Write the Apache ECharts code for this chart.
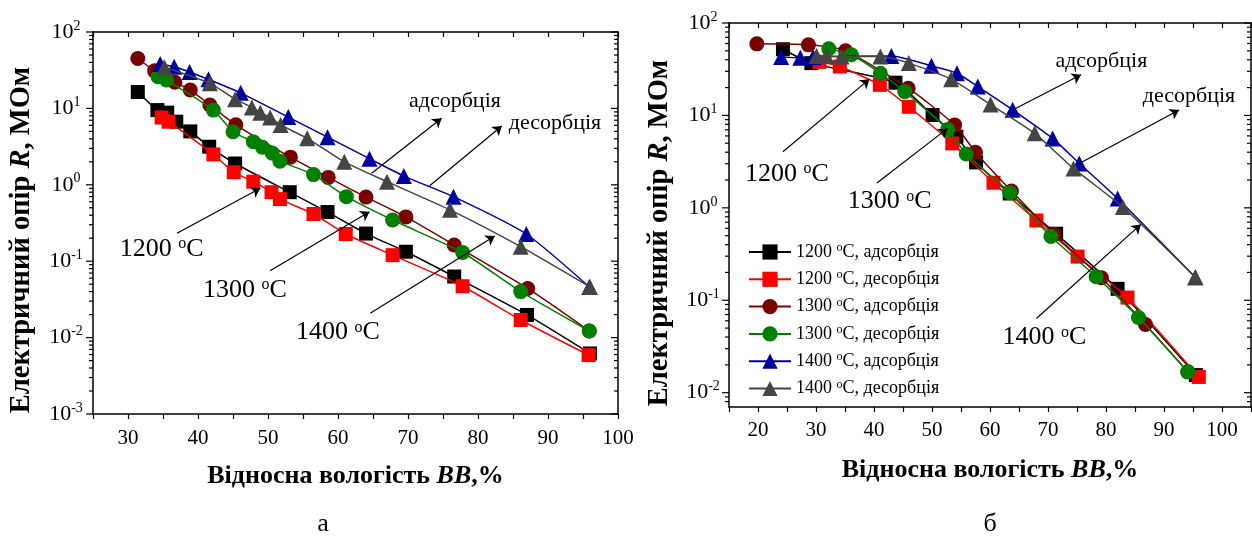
<!DOCTYPE html>
<html><head><meta charset="utf-8">
<script src="https://cdn.jsdelivr.net/npm/echarts@6/dist/echarts.min.js"></script>
<style>html,body{margin:0;padding:0;background:#fff}#c{width:1252px;height:540px}</style>
</head><body><div id="c"></div>
<script>
const FONT = 'Liberation Serif';
const names = ['1200 °C, адсорбція','1200 °C, десорбція','1300 °C, адсорбція','1300 °C, десорбція','1400 °C, адсорбція','1400 °C, десорбція'];
const colors = ['#000000','#ff0000','#7a0000','#008000','#0000a0','#444444'];
const symbols = ['rect','rect','circle','circle','triangle','triangle'];
const symSizes = [14,14,15,15,16,16];

// Panel а: [RH %, R MOhm]
const a1200ads = [[31.4,16.4],[34.2,9.5],[35.6,8.8],[36.9,6.7],[38.9,5.0],[41.6,3.15],[45.3,1.9],[53.1,0.80],[58.5,0.44],[64.0,0.23],[69.7,0.133],[76.6,0.063],[87.0,0.0198],[96.0,0.0062]];
const a1200des = [[34.8,7.6],[35.8,6.7],[42.2,2.5],[45.1,1.46],[47.9,1.10],[50.5,0.80],[51.7,0.65],[56.5,0.415],[61.1,0.227],[67.8,0.12],[77.8,0.047],[86.1,0.017],[95.8,0.0059]];
const a1300ads = [[31.4,45],[33.8,31],[36.7,22],[38.9,17.4],[41.7,11.1],[45.4,6.1],[53.2,2.3],[58.6,1.25],[64.0,0.69],[69.7,0.38],[76.6,0.163],[87.1,0.044],[95.9,0.0122]];
const a1300des = [[34.3,26],[35.5,23.5],[42.2,9.5],[45.0,4.95],[47.9,3.66],[49.2,3.1],[50.6,2.6],[51.7,2.04],[56.5,1.36],[61.2,0.70],[67.8,0.346],[77.8,0.13],[86.1,0.04],[95.9,0.0122]];
const a1400ads = [[34.6,38],[36.6,35],[38.8,30],[41.5,24],[46.1,16],[52.9,7.7],[58.5,4.2],[64.5,2.2],[69.4,1.3],[76.5,0.70],[86.9,0.227],[95.9,0.046]];
const a1400des = [[35.2,34.5],[41.7,21.3],[45.3,13.2],[47.7,10.3],[48.9,8.8],[50.3,7.6],[51.8,6.07],[55.6,4.06],[60.9,2.0],[67.0,1.1],[76.0,0.47],[86.1,0.155],[96.0,0.046]];

// Panel б
const b1200ads = [[24.3,52],[29.2,36.8],[43.7,22.6],[50.1,10.1],[54.2,5.9],[57.6,3.1],[63.4,1.43],[71.4,0.525],[82.0,0.133],[95.5,0.0155]];
const b1200des = [[30.6,38],[34.1,33.8],[41.0,21.4],[46.0,12.4],[53.5,4.98],[60.6,1.87],[68.0,0.73],[75.1,0.297],[83.7,0.107],[96.0,0.0148]];
const b1300ads = [[19.8,59.5],[28.7,58],[35.1,50],[45.9,19.7],[53.9,7.9],[57.5,4.0],[63.7,1.52],[71.1,0.515],[79.2,0.175],[86.8,0.0546],[94.1,0.0168]];
const b1300des = [[32.2,52.6],[36.1,45.3],[41.1,28.6],[45.3,18.1],[52.7,7.06],[55.9,3.83],[63.4,1.46],[70.5,0.49],[78.3,0.18],[85.6,0.065],[94.1,0.0168]];
const b1400ads = [[24.0,43],[27.3,42],[29.5,43],[43.0,44],[49.9,34.4],[54.3,28.6],[57.9,20.5],[63.9,11.5],[70.8,5.64],[75.4,3.02],[82.0,1.26],[95.4,0.177]];
const b1400des = [[30.1,44],[31.8,44],[34.4,43.4],[41.1,43.4],[46.0,36.8],[53.3,24.7],[60.1,13.1],[67.7,6.4],[74.4,2.67],[82.9,1.02],[95.4,0.177]];

// Axis ranges and tick labels
const xRangeA = [25, 100], yRangeA = [0.001, 100];
const xRangeB = [15, 105], yRangeB = [0.007, 100];
const xLabelsA = [30,40,50,60,70,80,90,100];
const xLabelsB = [20,30,40,50,60,70,80,90,100];
const yExpA = [-3,-2,-1,0,1,2];
const yExpB = [-2,-1,0,1,2];

// Annotations: [text, x, R, fontSize]
const textsA = [['адсорбція',76.7,12.5,22],['десорбція',91.0,6.44,22],['1200 {s|o}C',34.8,0.1445,26],['1300 {s|o}C',46.7,0.042,26],['1400 {s|o}C',60.0,0.0117,26]];
const arrowsA = [[64.8,1.42,74.8,7.41],[73.1,0.973,83.4,5.89],[37.0,0.232,48.9,0.90],[50.3,0.0752,64.5,0.445],[64.6,0.0208,82.4,0.214]];
const textsB = [['адсорбція',79.2,38.3,22],['десорбція',94.3,16.0,22],['1200 {s|o}C',25.0,2.31,26],['1300 {s|o}C',42.7,1.167,26],['1400 {s|o}C',69.4,0.0395,26]];
const arrowsB = [[63.9,11.46,75.7,27.5],[75.4,3.02,92.6,11.46],[24.3,4.04,39.2,24.7],[40.5,1.86,52.7,7.24],[68.0,0.0635,86.0,0.662]];

const dataA = [a1200ads,a1200des,a1300ads,a1300des,a1400ads,a1400des];
const dataB = [b1200ads,b1200des,b1300ads,b1300des,b1400ads,b1400des];

const axisLine = {show:true, onZero:false, lineStyle:{color:'#000', width:1.5}};
function xAxes(range, labels, grid, margin) {
  return [{
    type:'value', gridIndex:grid, position:'bottom', min:range[0], max:range[1], interval:5,
    axisLine, splitLine:{show:false},
    axisTick:{show:true, inside:false, length:5, lineStyle:{color:'#000', width:1.2}},
    axisLabel:{show:true, margin, color:'#000', fontFamily:FONT, fontSize:21,
      formatter: v => labels.includes(v) ? String(v) : ''}
  },{
    type:'value', gridIndex:grid, position:'top', min:range[0], max:range[1], interval:5,
    axisLine, splitLine:{show:false},
    axisTick:{show:true, inside:true, length:5, lineStyle:{color:'#000', width:1.2}},
    axisLabel:{show:false}
  }];
}
function yAxes(range, exps, grid, margin) {
  return [{
    type:'log', logBase:10, gridIndex:grid, position:'left', min:range[0], max:range[1],
    axisLine, splitLine:{show:false}, axisTick:{show:false}, minorTick:{show:false},
    axisLabel:{show:true, margin, align:'center', color:'#000', fontFamily:FONT, fontSize:22, lineHeight:26,
      formatter: v => { const l = Math.log10(v); const e = Math.round(l);
        return (Math.abs(l-e) < 1e-6 && exps.includes(e)) ? '10{s|' + e + '}' : ''; },
      rich:{s:{fontSize:14, fontFamily:FONT, color:'#000', verticalAlign:'top', lineHeight:13}}}
  },{
    type:'log', logBase:10, gridIndex:grid, position:'right', min:range[0], max:range[1],
    axisLine, splitLine:{show:false}, axisTick:{show:false}, axisLabel:{show:false}
  }];
}
function tickData(range, xmin) {
  const out = [];
  for (let k = Math.floor(Math.log10(range[0])); k <= Math.ceil(Math.log10(range[1])); k++) {
    for (let m = 1; m <= 9; m++) {
      const v = m * Math.pow(10, k);
      const major = m === 1;
      if (v <= range[1]*1.0001 && (v > range[0]*1.0001 || (major && v >= range[0]*0.9999))) out.push([xmin, v, major ? 1 : 0]);
    }
  }
  return out;
}
function tickSeries(range, xmin, idx) {
  return {type:'custom', name:'ticks'+idx, xAxisIndex:idx, yAxisIndex:idx, data:tickData(range, xmin),
    encode:{x:0, y:1}, clip:false, silent:true, z:5,
    renderItem(params, api) {
      const y = api.coord([api.value(0), api.value(1)])[1];
      const cs = params.coordSys;
      const len = api.value(2) ? 7 : 4;
      const st = {stroke:'#000', lineWidth:1.2};
      return {type:'group', children:[
        {type:'line', shape:{x1:cs.x-len, y1:y, x2:cs.x, y2:y}, style:st},
        {type:'line', shape:{x1:cs.x+cs.width-len, y1:y, x2:cs.x+cs.width, y2:y}, style:st}
      ]};
    }};
}
function lineSeries(data, idx, arrows) {
  return data.map((d, i) => {
    const s = {name:names[i], type:'line', xAxisIndex:idx, yAxisIndex:idx, data:d,
      symbol:symbols[i], symbolSize:symSizes[i], showSymbol:true, smooth:0.2,
      itemStyle:{color:colors[i], borderWidth:0}, lineStyle:{color:colors[i], width:1.5},
      emphasis:{disabled:true}, z:2+i*0.01};
    if (i === 0) {
      s.markLine = {silent:true, symbol:['none','arrow'], symbolSize:9, label:{show:false},
        lineStyle:{color:'#000', width:1.2, type:'solid'}, emphasis:{disabled:true}, animation:false,
        data: arrows.map(a => [{coord:[a[0],a[1]]},{coord:[a[2],a[3]]}])};
    }
    return s;
  });
}

const chart = echarts.init(document.getElementById('c'), null, {renderer:'canvas'});
const option = {
  animation:false,
  backgroundColor:'#fff',
  grid:[
    {left:93, top:32, width:525, height:382, outerBoundsMode:'none', containLabel:false},
    {left:729, top:23, width:522, height:384, outerBoundsMode:'none', containLabel:false}
  ],
  xAxis:[...xAxes(xRangeA, xLabelsA, 0, 13.5), ...xAxes(xRangeB, xLabelsB, 1, 12.5)],
  yAxis:[...yAxes(yRangeA, yExpA, 0, 27), ...yAxes(yRangeB, yExpB, 1, 26)],
  legend:{data:names, orient:'vertical', left:748, top:242, padding:0, itemWidth:42, itemHeight:19, itemGap:7.3,
    selectedMode:false,
    textStyle:{fontFamily:FONT, fontSize:18, color:'#000', lineHeight:20,
      rich:{s:{fontFamily:FONT, fontSize:12, color:'#000', verticalAlign:'top', lineHeight:12}}},
    formatter: n => n.replace('°', '{s|o}')},
  series:[...lineSeries(dataA, 0, arrowsA), ...lineSeries(dataB, 2, arrowsB),
    tickSeries(yRangeA, xRangeA[0], 0), tickSeries(yRangeB, xRangeB[0], 2)]
};
chart.setOption(option);

const g = [];
function addTexts(list, idx) {
  list.forEach(t => {
    const p = chart.convertToPixel({xAxisIndex:idx, yAxisIndex:idx}, [t[1], t[2]]);
    g.push({type:'text', x:p[0], y:p[1], silent:true, z:20,
      style:{text:t[0], fontFamily:FONT, fontSize:t[3], fill:'#000', align:'center', verticalAlign:'middle',
        rich:{s:{fontFamily:FONT, fontSize:Math.round(t[3]*0.62), fill:'#000', verticalAlign:'top', lineHeight:14}}}});
  });
}
addTexts(textsA, 0);
addTexts(textsB, 2);
function title(txt, x, y, rot, size) {
  return {type:'text', x, y, rotation:rot, silent:true,
    style:{text:txt, fontFamily:FONT, fontSize:size, fontWeight:'bold', fill:'#000', align:'center', verticalAlign:'middle',
      rich:{i:{fontFamily:FONT, fontSize:size, fontWeight:'bold', fontStyle:'italic', fill:'#000'}}}};
}
g.push(title('Електричний опір {i|R}, МОм', 22, 240, Math.PI/2, 28.5));
g.push(title('Електричний опір {i|R}, МОм', 660, 233, Math.PI/2, 28.5));
g.push(title('Відносна вологість {i|BB},%', 355.5, 476, 0, 26));
g.push(title('Відносна вологість {i|BB},%', 990, 470, 0, 26));
g.push({type:'text', x:323, y:524, silent:true, style:{text:'а', fontFamily:FONT, fontSize:26, fill:'#000', align:'center', verticalAlign:'middle'}});
g.push({type:'text', x:990, y:524, silent:true, style:{text:'б', fontFamily:FONT, fontSize:26, fill:'#000', align:'center', verticalAlign:'middle'}});
chart.setOption({graphic:g});
</script>
</body></html>
